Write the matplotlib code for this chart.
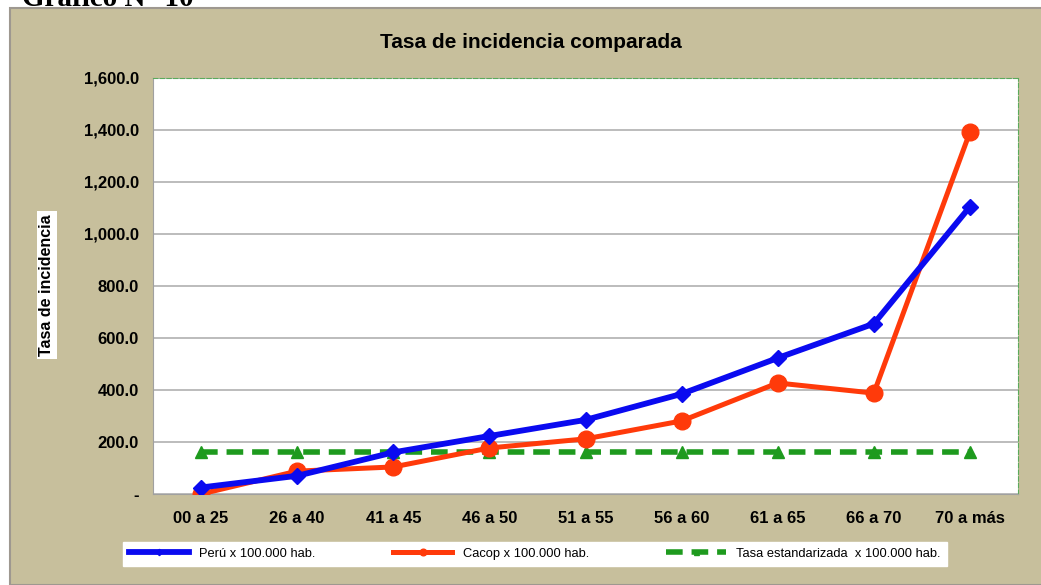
import matplotlib
matplotlib.use("Agg")
import matplotlib.pyplot as plt
from matplotlib.patches import Rectangle
from matplotlib.ticker import FuncFormatter

plt.rcParams['font.family'] = ['Liberation Sans', 'DejaVu Sans']

categorias = ['00 a 25', '26 a 40', '41 a 45', '46 a 50', '51 a 55',
              '56 a 60', '61 a 65', '66 a 70', '70 a más']
peru = [25, 70, 160, 223, 285, 385, 523, 655, 1105]
cacop = [0, 88, 104, 177, 212, 281, 427, 388, 1392]
tasa_std = [163, 163, 163, 163, 163, 163, 163, 163, 163]

fig = plt.figure(figsize=(10.41, 5.85), dpi=100)
fig.patch.set_facecolor('white')

# fondo del grafico (tipo excel)
fig.patches.append(Rectangle((10 / 1041, 0), 1.0, 1 - 8 / 585, transform=fig.transFigure,
                             facecolor='#C7BF9C', edgecolor='#9E9890', linewidth=1.5, zorder=-10))
fig.text(22 / 1041, 1 - 6 / 585, 'Gráfico N° 10', family='Liberation Serif', fontweight='bold',
         fontsize=21, va='baseline', ha='left', zorder=10)

ax = fig.add_axes([153 / 1041, 91 / 585, 865 / 1041, 416 / 585])
ax.set_facecolor('white')
x = range(len(categorias))

ax.plot(x, peru, color='#0A0AF0', lw=4.2, marker='D', ms=8, label='Perú x 100.000 hab.', zorder=4)
ax.plot(x, cacop, color='#FF3A0A', lw=3.6, marker='o', ms=12, label='Cacop x 100.000 hab.', zorder=3)
ax.plot(x, tasa_std, color='#1E9A1E', lw=4, ls=(0, (3, 1.6)), marker='^', ms=9,
        label='Tasa estandarizada  x 100.000 hab.', zorder=2)

ax.set_xlim(-0.5, 8.5)
ax.set_ylim(0, 1600)
ax.set_yticks(range(0, 1601, 200))
ax.yaxis.set_major_formatter(FuncFormatter(lambda v, p: '-' if v == 0 else f'{v:,.1f}'))
ax.set_xticks(list(x))
ax.set_xticklabels(categorias)
ax.tick_params(length=0, labelsize=12)
ax.tick_params(axis='y', pad=10)
ax.tick_params(axis='x', pad=12)
for lab in ax.get_xticklabels() + ax.get_yticklabels():
    lab.set_fontweight('bold')
ax.grid(axis='y', color='#B0B0B0', lw=1.2)
ax.set_axisbelow(True)

for s in ['top', 'right']:
    ax.spines[s].set_color('#5BAA5B')
    ax.spines[s].set_linestyle((0, (4, 2)))
for s in ['left', 'bottom']:
    ax.spines[s].set_color('#A0A0A0')

fig.text(531 / 1041, 1 - 43 / 585, 'Tasa de incidencia comparada', fontsize=15,
         fontweight='bold', ha='center', va='center')

fig.text(47 / 1041, 1 - 285 / 585, 'Tasa de incidencia', rotation=90, fontsize=11.5,
         fontweight='bold', ha='center', va='center',
         bbox=dict(facecolor='white', edgecolor='none', pad=2))

leg = fig.legend(loc='center', bbox_to_anchor=(535 / 1041, 1 - 554 / 585), ncol=3,
                 fontsize=9.3, handlelength=4.6, columnspacing=6.0, frameon=True,
                 fancybox=False, borderpad=0.5, markerscale=0.4)
leg.get_frame().set_edgecolor('white')
leg.get_frame().set_facecolor('white')
leg.get_frame().set_alpha(1)

plt.savefig('out.png', dpi=100)
